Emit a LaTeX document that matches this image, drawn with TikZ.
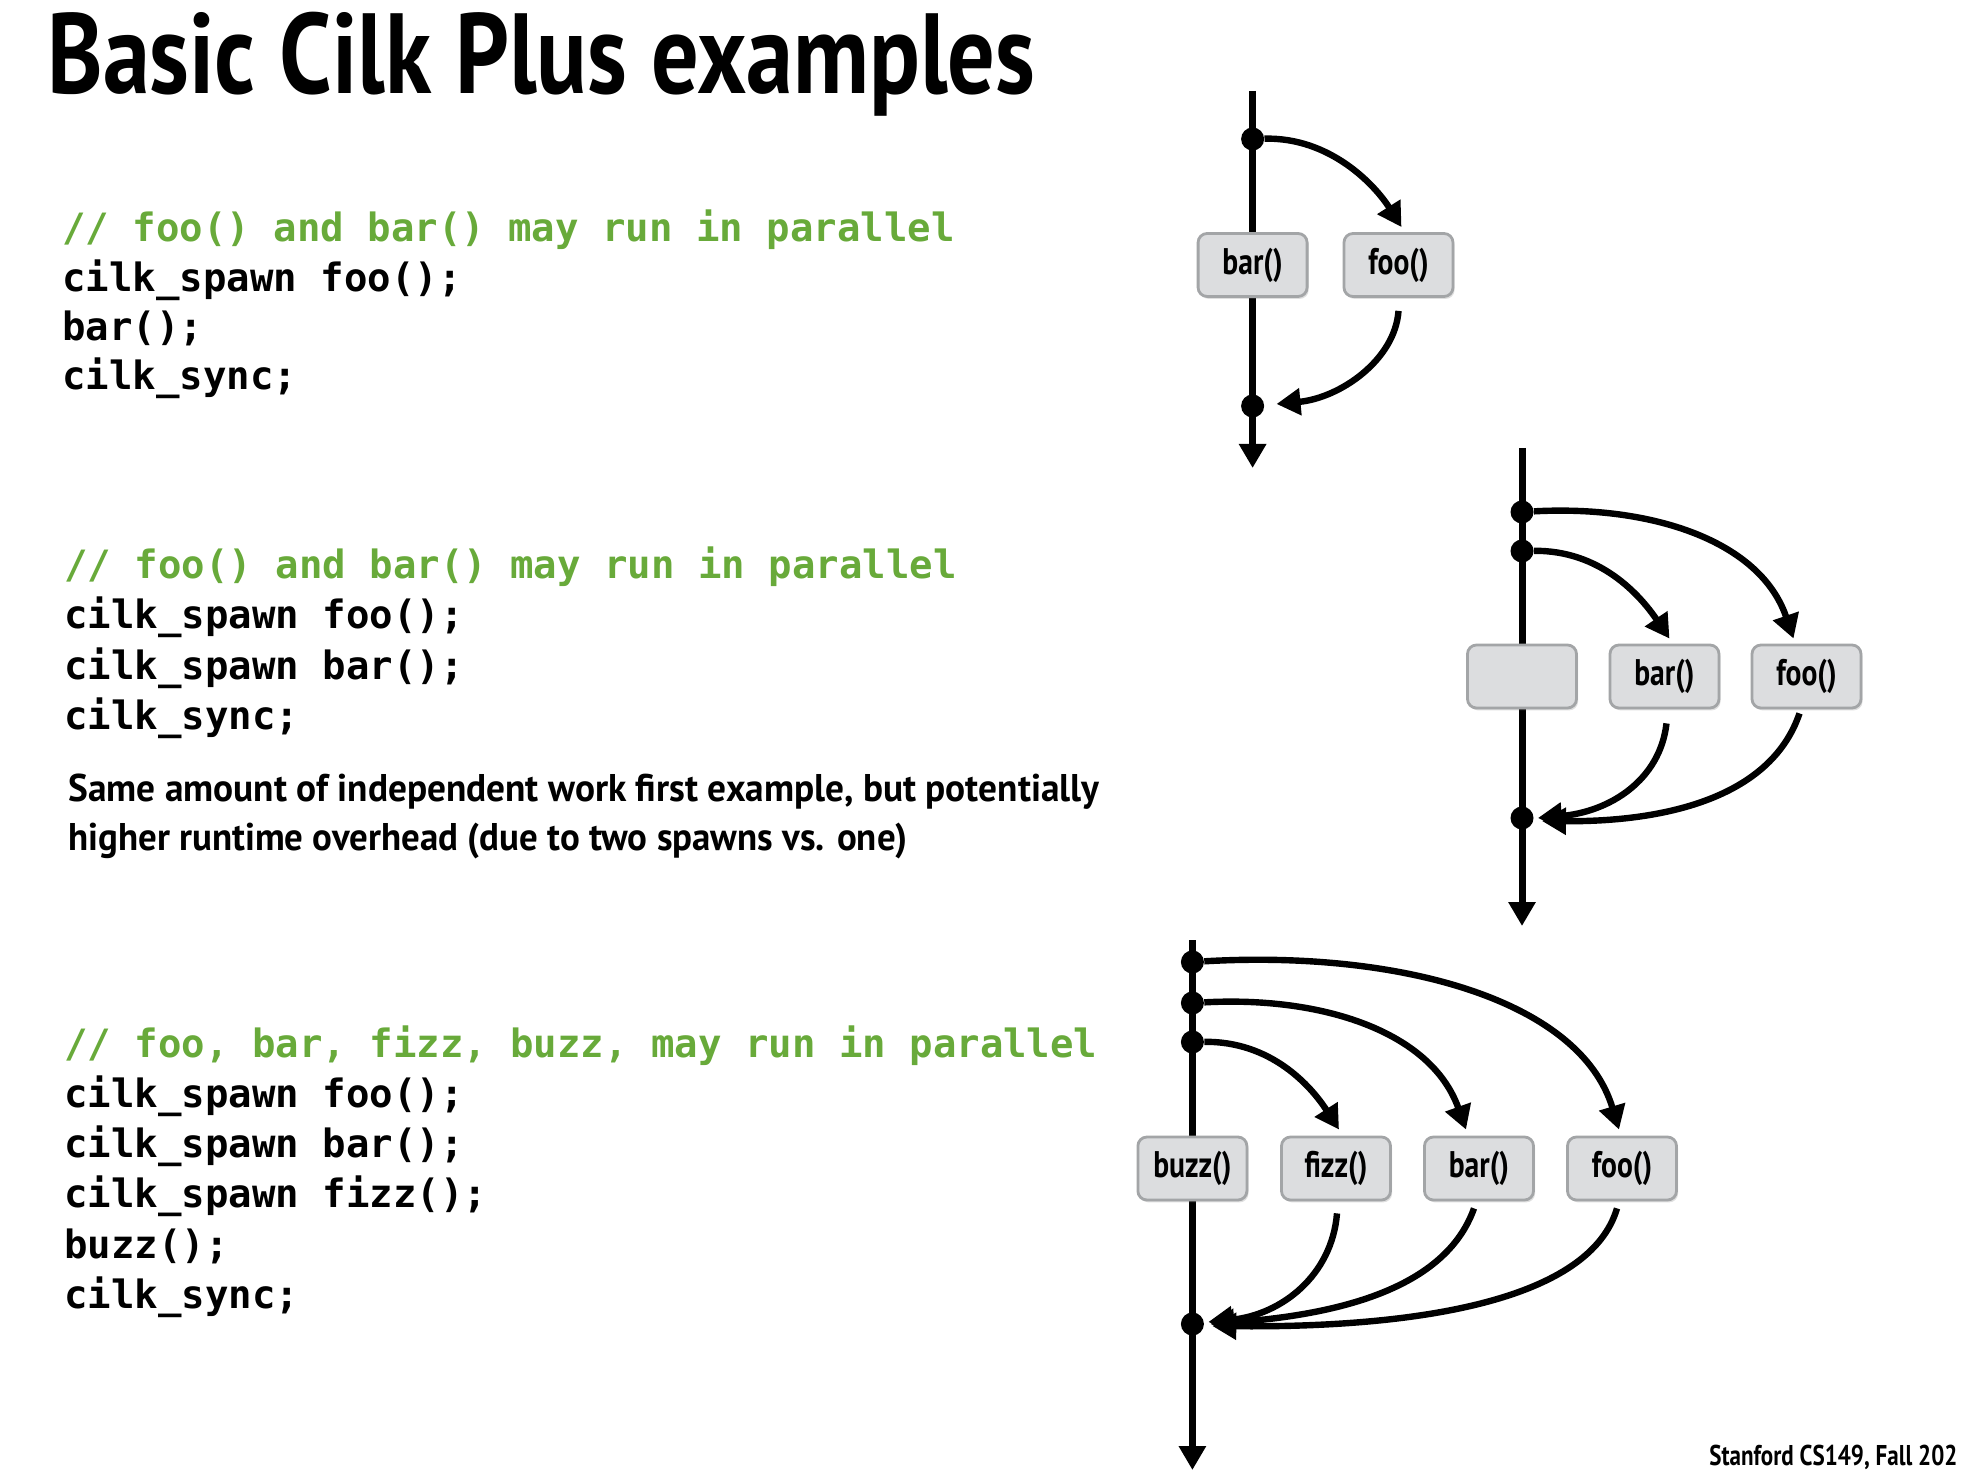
\documentclass[tikz,border=0pt]{standalone}
\usepackage{graphicx}
\usepackage{fontspec}
\setmonofont{DejaVu Sans Mono}
\newfontfamily\myr{PT Sans}
\newfontfamily\myrc{PT Sans}[FakeStretch=0.8]
\usetikzlibrary{arrows.meta,shadows,calc}
\definecolor{cgreen}{RGB}{104,170,58}
\definecolor{boxfill}{RGB}{220,221,223}
\definecolor{boxline}{RGB}{163,165,167}
\begin{document}
\begin{tikzpicture}[x=0.5pt,y=-0.5pt,
  fn/.style={draw=boxline, line width=1.4pt, fill=boxfill, rounded corners=4.5pt,
    minimum width=54.5pt, minimum height=31.5pt, inner sep=0pt,
    font=\myrc\bfseries\fontsize{18.5}{20}\selectfont,
    drop shadow={opacity=0.25, shadow xshift=0.8pt, shadow yshift=-1.2pt}},
  syncdot/.style={circle, fill=black, inner sep=0pt, minimum size=11.5pt},
  thread/.style={line width=3.5pt, -{Triangle[length=12pt,width=13pt]}},
  flow/.style={line width=3.2pt, -{Triangle[length=12pt,width=13pt]}},
  codeline/.style={anchor=base west, inner sep=0pt, font=\ttfamily\bfseries\fontsize{19.5}{22}\selectfont},
  plain/.style={anchor=base west, inner sep=0pt}
]
\fill[white] (0,0) rectangle (1966,1470);
\useasboundingbox (0,0) rectangle (1966,1470);

% ---- title ----
\node[plain] (title) at (47,94) {\resizebox{494pt}{\height}{\myr\bfseries\fontsize{57}{60}\selectfont Basic Cilk Plus examples}};

% ---- code block 1 ----
\node[codeline, text=cgreen] (c1a) at (62,242) {// foo() and bar() may run in parallel};
\node[codeline] (c1b) at (62,292) {cilk\_spawn foo();};
\node[codeline] (c1c) at (62,341) {bar();};
\node[codeline] (c1d) at (62,390) {cilk\_sync;};

% ---- code block 2 ----
\node[codeline, text=cgreen] (c2a) at (64,579) {// foo() and bar() may run in parallel};
\node[codeline] (c2b) at (64,629) {cilk\_spawn foo();};
\node[codeline] (c2c) at (64,680) {cilk\_spawn bar();};
\node[codeline] (c2d) at (64,730) {cilk\_sync;};
\node[plain] (note1) at (68,801.5) {\resizebox{515.5pt}{\height}{\myr\bfseries\fontsize{19.3}{22}\selectfont Same amount of independent work first example, but potentially}};
\node[plain] (note2) at (68,850) {\resizebox{419.5pt}{\height}{\myr\bfseries\fontsize{19.3}{22}\selectfont higher runtime overhead (due to two spawns vs. one)}};

% ---- code block 3 ----
\node[codeline, text=cgreen] (c3a) at (64,1057) {// foo, bar, fizz, buzz, may run in parallel};
\node[codeline] (c3b) at (64,1107) {cilk\_spawn foo();};
\node[codeline] (c3c) at (64,1157) {cilk\_spawn bar();};
\node[codeline] (c3d) at (64,1207) {cilk\_spawn fizz();};
\node[codeline] (c3e) at (64,1258) {buzz();};
\node[codeline] (c3f) at (64,1308) {cilk\_sync;};

% ---- footer ----
\node[plain] (foot) at (1709,1465) {\resizebox{124pt}{\height}{\myr\bfseries\fontsize{14.3}{16}\selectfont Stanford CS149, Fall 202}};

% ================= diagram 1 =================
\coordinate (t1top) at (1252.6,91);
\coordinate (t1bot) at (1252.6,468);
\draw[thread] (t1top) -- (t1bot);
\node[fn] (bar1) at (1252.6,265) {bar()};
\node[fn] (foo1) at (1398.5,265) {foo()};
\node[syncdot] (s1) at (1252.6,139) {};
\node[syncdot] (j1) at (1252.6,406) {};
\draw[flow] (s1) .. controls (1330,137) and (1375,185) .. ($(foo1.north)+(3,-5)$);
\draw[flow] ($(foo1.south)+(0,13)$) .. controls (1395,360) and (1340,398) .. ($(j1.east)+(12,-2)$);

% ================= diagram 2 =================
\coordinate (t2top) at (1522,448);
\coordinate (t2bot) at (1522,926);
\draw[thread] (t2top) -- (t2bot);
\node[fn] (blank2) at (1522,676.5) {};
\node[fn] (bar2) at (1664.5,676.5) {bar()};
\node[fn] (foo2) at (1806.5,676.5) {foo()};
\node[syncdot] (s2a) at (1522,512) {};
\node[syncdot] (s2b) at (1522,551) {};
\node[syncdot] (j2) at (1522,818) {};
\draw[flow] (s2a) .. controls (1650,505) and (1760,540) .. ($(foo2.north)+(-13,-5)$);
\draw[flow] (s2b) .. controls (1600,550) and (1640,595) .. ($(bar2.north)+(5,-5)$);
\draw[flow] ($(bar2.south)+(2,14)$) .. controls (1660,780) and (1610,812) .. ($(j2.east)+(4,0)$);
\draw[flow] ($(foo2.south)+(-7,4)$) .. controls (1770,800) and (1660,822) .. ($(j2.east)+(8,3)$);

% ================= diagram 3 =================
\coordinate (t3top) at (1192.4,940);
\coordinate (t3bot) at (1192.4,1470);
\draw[thread] (t3top) -- (t3bot);
\node[fn] (buzz3) at (1192.4,1168.5) {buzz()};
\node[fn] (fizz3) at (1336,1168.5) {fizz()};
\node[fn] (bar3) at (1479,1168.5) {bar()};
\node[fn] (foo3) at (1622,1168.5) {foo()};
\node[syncdot] (s3a) at (1192.4,962) {};
\node[syncdot] (s3b) at (1192.4,1003) {};
\node[syncdot] (s3c) at (1192.4,1042) {};
\node[syncdot] (j3) at (1192.4,1324) {};
\draw[flow] (s3a) .. controls (1400,950) and (1580,1000) .. ($(foo3.north)+(-3,-6)$);
\draw[flow] (s3b) .. controls (1321,996) and (1431,1031) .. ($(bar3.north)+(-13,-6)$);
\draw[flow] (s3c) .. controls (1271,1041) and (1311,1086) .. ($(fizz3.north)+(3,-6)$);
\draw[flow] ($(fizz3.south)+(1,12)$) .. controls (1332,1275) and (1282,1315) .. ($(j3.east)+(4,-2)$);
\draw[flow] ($(bar3.south)+(-5,7)$) .. controls (1445,1290) and (1335,1315) .. ($(j3.east)+(6,0)$);
\draw[flow] ($(foo3.south)+(-5,7)$) .. controls (1590,1300) and (1420,1328) .. ($(j3.east)+(8,2)$);
\end{tikzpicture}
\end{document}
